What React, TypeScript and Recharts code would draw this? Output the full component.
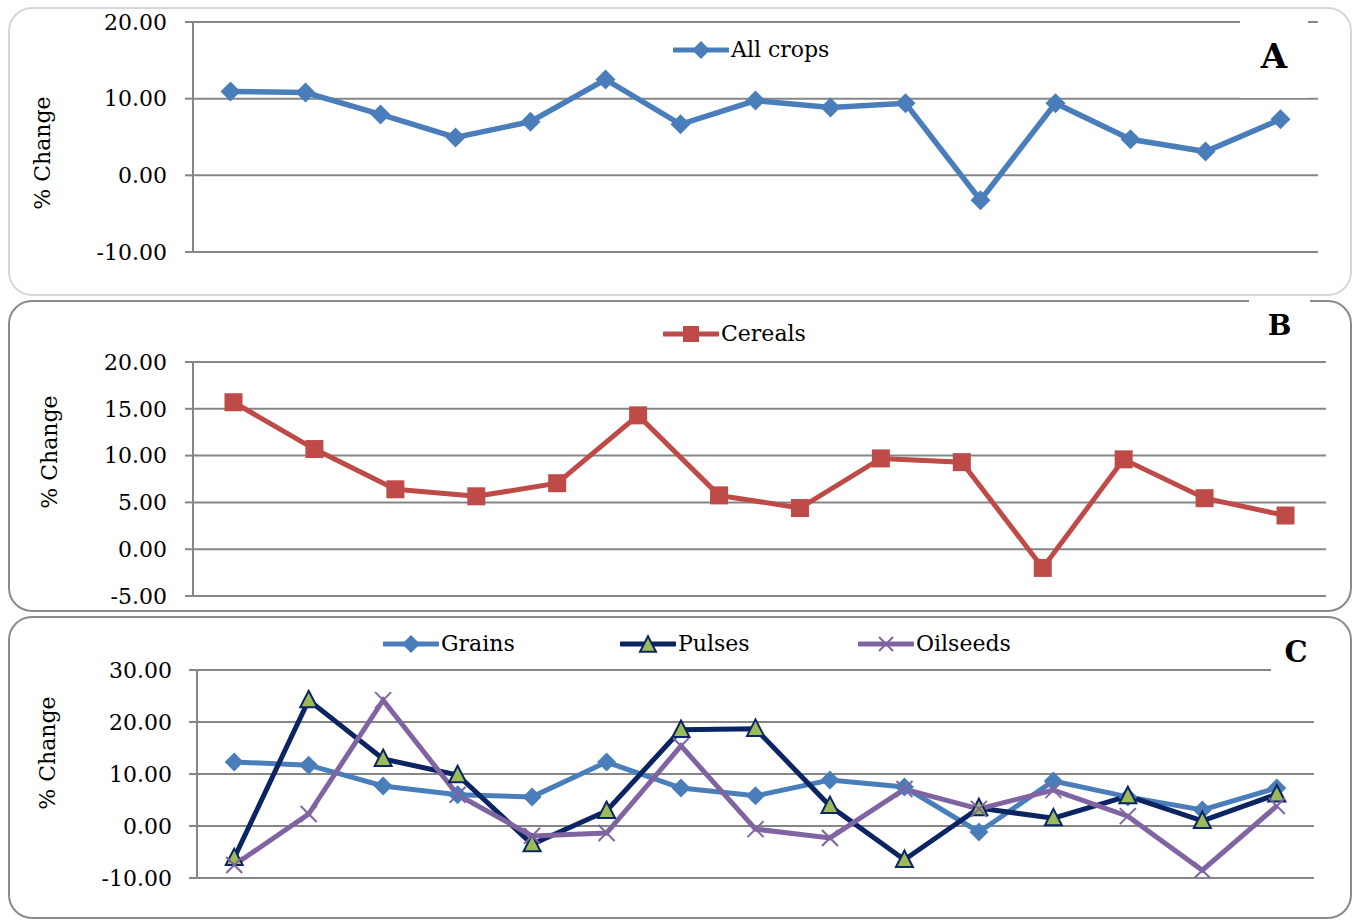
import React from 'react';
import { LineChart, Line, XAxis, YAxis, CartesianGrid } from 'recharts';

const FONT = '"DejaVu Serif", "Liberation Serif", serif';

// ---------- data ----------
const categoriesA = ['1', '2', '3', '4', '5', '6', '7', '8', '9', '10', '11', '12', '13', '14', '15'];
const allCrops = [10.95, 10.8, 7.95, 4.95, 7.0, 12.5, 6.65, 9.75, 8.85, 9.4, -3.25, 9.4, 4.7, 3.1, 7.3];
const ticksA = [-10, 0, 10, 20];

const categoriesB = ['1', '2', '3', '4', '5', '6', '7', '8', '9', '10', '11', '12', '13', '14'];
const cereals = [15.7, 10.7, 6.4, 5.65, 7.05, 14.3, 5.75, 4.4, 9.7, 9.3, -2.0, 9.6, 5.45, 3.6];
const ticksB = [-5, 0, 5, 10, 15, 20];

const categoriesC = ['1', '2', '3', '4', '5', '6', '7', '8', '9', '10', '11', '12', '13', '14', '15'];
const grains = [12.3, 11.7, 7.7, 6.0, 5.6, 12.3, 7.3, 5.8, 8.85, 7.5, -1.15, 8.65, 5.6, 3.1, 7.3];
const pulses = [-6.15, 24.2, 12.9, 9.8, -3.5, 2.9, 18.5, 18.7, 3.85, -6.5, 3.45, 1.5, 5.75, 1.0, 6.1];
const oilseeds = [-7.5, 2.3, 24.2, 6.0, -1.9, -1.35, 15.4, -0.6, -2.3, 7.1, 3.3, 6.9, 1.9, -8.5, 3.85];
const ticksC = [-10, 0, 10, 20, 30];

const dataA = categoriesA.map((c, i) => ({ cat: c, allCrops: allCrops[i] }));
const dataB = categoriesB.map((c, i) => ({ cat: c, cereals: cereals[i] }));
const dataC = categoriesC.map((c, i) => ({ cat: c, grains: grains[i], pulses: pulses[i], oilseeds: oilseeds[i] }));

// ---------- colours ----------
const C_ALL = '#4a7ebb';
const C_CER = '#be4b48';
const C_GRA = '#4a7ebb';
const C_PUL = '#0b2462';
const C_PUL_FILL = '#9bbb59';
const C_OIL = '#8064a2';
const GRID = '#868686';

// ---------- markers ----------
const diamond = (cx: number, cy: number, r: number, color: string, key?: any) => (
  <polygon key={key} points={`${cx},${cy - r} ${cx + r},${cy} ${cx},${cy + r} ${cx - r},${cy}`} fill={color} />
);
const square = (cx: number, cy: number, s: number, color: string, key?: any) => (
  <rect key={key} x={cx - s / 2} y={cy - s / 2} width={s} height={s} fill={color} />
);
const triangle = (cx: number, cy: number, s: number, key?: any) => (
  <polygon
    key={key}
    points={`${cx},${cy - s * 0.55} ${cx + s / 2},${cy + s * 0.42} ${cx - s / 2},${cy + s * 0.42}`}
    fill={C_PUL_FILL}
    stroke={C_PUL}
    strokeWidth={2}
    strokeLinejoin="miter"
  />
);
const cross = (cx: number, cy: number, r: number, color: string, key?: any) => (
  <g key={key}>
    <line x1={cx - r} y1={cy - r} x2={cx + r} y2={cy + r} stroke={color} strokeWidth={2} />
    <line x1={cx - r} y1={cy + r} x2={cx + r} y2={cy - r} stroke={color} strokeWidth={2} />
  </g>
);

const dotFn = (kind: string) => (props: any) => {
  const { cx, cy, index } = props;
  const key = `${kind}-${index}`;
  if (cx == null || cy == null) return <g key={key} />;
  if (kind === 'all') return diamond(cx, cy, 10, C_ALL, key);
  if (kind === 'cer') return square(cx, cy, 18, C_CER, key);
  if (kind === 'gra') return diamond(cx, cy, 9.5, C_GRA, key);
  if (kind === 'pul') return triangle(cx, cy, 17, key);
  return cross(cx, cy, 8, C_OIL, key);
};

// ---------- shared pieces ----------
const tickStyle = { fill: '#000', fontSize: 22, fontFamily: FONT };
const fmt = (v: number) => v.toFixed(2);

const YLabel = ({ cx, cy }: { cx: number; cy: number }) => (
  <div
    style={{
      position: 'absolute',
      left: cx - 80,
      top: cy - 14,
      width: 160,
      height: 28,
      lineHeight: '28px',
      textAlign: 'center',
      fontFamily: FONT,
      fontSize: 22,
      color: '#000',
      transform: 'rotate(-90deg)',
      whiteSpace: 'nowrap',
    }}
  >
    % Change
  </div>
);

const LegendItem = ({ x, y, label, marker, color }: any) => (
  <>
    <svg style={{ position: 'absolute', left: x, top: y - 11 }} width={56} height={22}>
      <line x1={1} y1={11} x2={55} y2={11} stroke={color} strokeWidth={5} strokeLinecap="round" />
      {marker === 'all' && diamond(28, 11, 9, C_ALL)}
      {marker === 'cer' && square(28, 11, 16, C_CER)}
      {marker === 'gra' && diamond(28, 11, 9, C_GRA)}
      {marker === 'pul' && triangle(28, 12, 16)}
      {marker === 'oil' && cross(28, 11, 7, C_OIL)}
    </svg>
    <div
      style={{
        position: 'absolute',
        left: x + 58,
        top: y - 14,
        lineHeight: '28px',
        fontFamily: FONT,
        fontSize: 22,
        color: '#000',
        whiteSpace: 'nowrap',
      }}
    >
      {label}
    </div>
  </>
);

const PanelTag = ({ left, top, width, height, text, size }: any) => (
  <div
    style={{
      position: 'absolute',
      left,
      top,
      width,
      height,
      background: '#fff',
      display: 'flex',
      alignItems: 'center',
      justifyContent: 'center',
      fontFamily: FONT,
      fontWeight: 'bold',
      fontSize: size,
      color: '#000',
    }}
  >
    {text}
  </div>
);

const yAxisProps = (ticks: number[], domain: [number, number], width: number, margin: number) => ({
  type: 'number' as const,
  domain,
  ticks,
  interval: 0 as const,
  width,
  tick: tickStyle,
  tickFormatter: fmt,
  tickSize: 8,
  tickMargin: margin,
  tickLine: { stroke: GRID, strokeWidth: 2 },
  axisLine: { stroke: GRID, strokeWidth: 2 },
  allowDataOverflow: true,
});

export default function App() {
  return (
    <div
      style={{
        position: 'absolute',
        left: 0,
        top: 0,
        width: 1353,
        height: 920,
        overflow: 'hidden',
        background: '#fff',
      }}
    >
      {/* panel boxes */}
      <div
        style={{
          position: 'absolute',
          left: 8,
          top: 7,
          width: 1344,
          height: 289,
          border: '2px solid #d6d6d6',
          borderRadius: 24,
          boxSizing: 'border-box',
        }}
      />
      <div
        style={{
          position: 'absolute',
          left: 8,
          top: 300,
          width: 1344,
          height: 312,
          border: '2px solid #8a8a8a',
          borderRadius: 24,
          boxSizing: 'border-box',
        }}
      />
      <div
        style={{
          position: 'absolute',
          left: 8,
          top: 616,
          width: 1344,
          height: 303,
          border: '2px solid #8a8a8a',
          borderRadius: 24,
          boxSizing: 'border-box',
        }}
      />

      {/* Panel A */}
      <div style={{ position: 'absolute', left: 0, top: 0 }}>
        <LineChart width={1353} height={300} data={dataA} margin={{ top: 22, right: 35, bottom: 48, left: 0 }}>
          <CartesianGrid vertical={false} stroke={GRID} strokeWidth={2} />
          <XAxis dataKey="cat" hide padding={{ left: 37.5, right: 37.5 }} />
          <YAxis {...yAxisProps(ticksA, [-10, 20], 193, 18)} />
          <Line
            type="linear"
            dataKey="allCrops"
            stroke={C_ALL}
            strokeWidth={5.5}
            dot={dotFn('all')}
            activeDot={false}
            isAnimationActive={false}
          />
        </LineChart>
      </div>

      {/* Panel B */}
      <div style={{ position: 'absolute', left: 0, top: 300 }}>
        <LineChart width={1353} height={311} data={dataB} margin={{ top: 62, right: 27, bottom: 15, left: 0 }}>
          <CartesianGrid vertical={false} stroke={GRID} strokeWidth={2} />
          <XAxis dataKey="cat" hide padding={{ left: 40.5, right: 40.5 }} />
          <YAxis {...yAxisProps(ticksB, [-5, 20], 193, 18)} />
          <Line
            type="linear"
            dataKey="cereals"
            stroke={C_CER}
            strokeWidth={5}
            dot={dotFn('cer')}
            activeDot={false}
            isAnimationActive={false}
          />
        </LineChart>
      </div>

      {/* Panel C */}
      <div style={{ position: 'absolute', left: 0, top: 610 }}>
        <LineChart width={1353} height={310} data={dataC} margin={{ top: 60, right: 39, bottom: 42, left: 0 }}>
          <CartesianGrid vertical={false} stroke={GRID} strokeWidth={2} />
          <XAxis dataKey="cat" hide padding={{ left: 37.2, right: 37.2 }} />
          <YAxis {...yAxisProps(ticksC, [-10, 30], 197, 17)} />
          <Line
            type="linear"
            dataKey="grains"
            stroke={C_GRA}
            strokeWidth={5}
            dot={dotFn('gra')}
            activeDot={false}
            isAnimationActive={false}
          />
          <Line
            type="linear"
            dataKey="pulses"
            stroke={C_PUL}
            strokeWidth={5}
            dot={dotFn('pul')}
            activeDot={false}
            isAnimationActive={false}
          />
          <Line
            type="linear"
            dataKey="oilseeds"
            stroke={C_OIL}
            strokeWidth={5}
            dot={dotFn('oil')}
            activeDot={false}
            isAnimationActive={false}
          />
        </LineChart>
      </div>

      {/* axis titles */}
      <YLabel cx={43} cy={153} />
      <YLabel cx={50} cy={452} />
      <YLabel cx={48} cy={753} />

      {/* legends */}
      <LegendItem x={673} y={50} label="All crops" marker="all" color={C_ALL} />
      <LegendItem x={663} y={334} label="Cereals" marker="cer" color={C_CER} />
      <LegendItem x={383} y={644} label="Grains" marker="gra" color={C_GRA} />
      <LegendItem x={620} y={644} label="Pulses" marker="pul" color={C_PUL} />
      <LegendItem x={858} y={644} label="Oilseeds" marker="oil" color={C_OIL} />

      {/* panel tags */}
      <PanelTag left={1240} top={14} width={68} height={84} text="A" size={34} />
      <PanelTag left={1249} top={298} width={61} height={54} text="B" size={28} />
      <PanelTag left={1271} top={630} width={50} height={44} text="C" size={29} />
    </div>
  );
}
